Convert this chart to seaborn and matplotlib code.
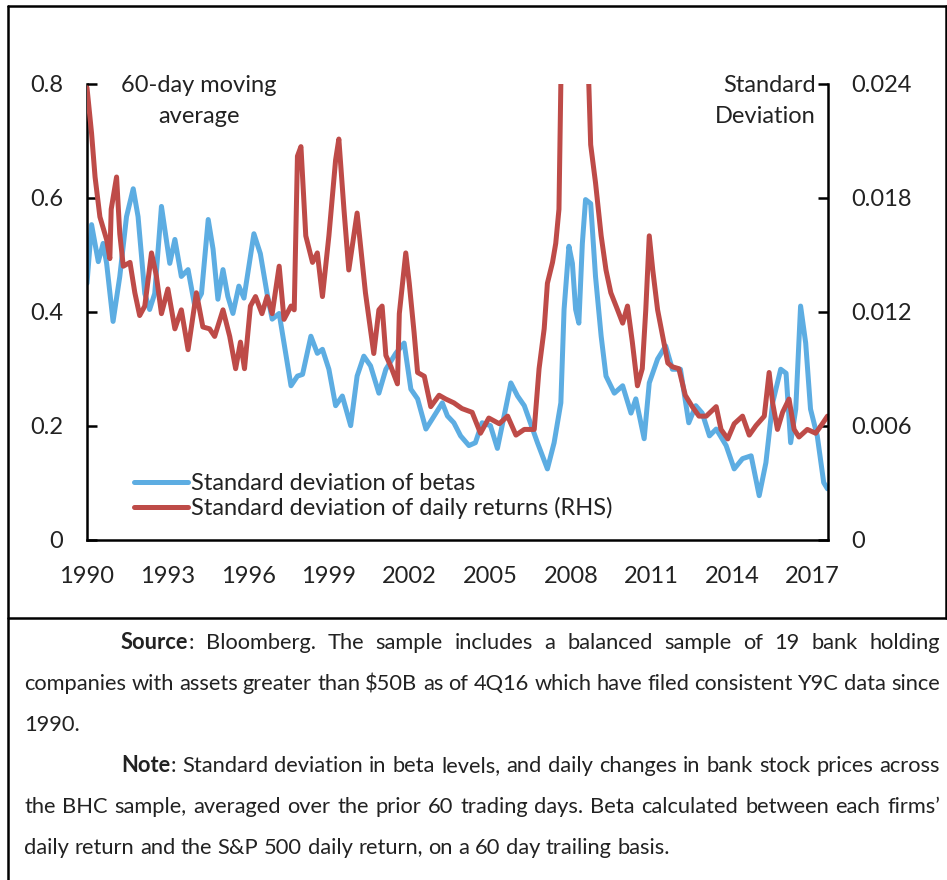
import numpy as np
import pandas as pd
import matplotlib
matplotlib.use("Agg")
import matplotlib.pyplot as plt
from matplotlib.font_manager import FontProperties
import seaborn as sns

# 60-day moving averages
beta_years = [1990.0, 1990.17, 1990.42, 1990.6, 1990.73, 1990.97, 1991.22, 1991.47, 1991.72, 1991.9,
              1992.15, 1992.33, 1992.52, 1992.77, 1992.95, 1993.08, 1993.27, 1993.51, 1993.76, 1994.01,
              1994.26, 1994.51, 1994.69, 1994.87, 1995.06, 1995.24, 1995.43, 1995.65, 1995.84, 1996.21,
              1996.45, 1996.70, 1996.89, 1997.15, 1997.33, 1997.59, 1997.83, 1998.02, 1998.33, 1998.57,
              1998.76, 1999.00, 1999.25, 1999.50, 1999.81, 2000.05, 2000.30, 2000.55, 2000.86, 2001.12,
              2001.49, 2001.80, 2002.05, 2002.30, 2002.61, 2002.85, 2003.22, 2003.41, 2003.65, 2003.90,
              2004.21, 2004.45, 2004.70, 2005.01, 2005.27, 2005.52, 2005.77, 2006.02, 2006.27, 2006.76,
              2007.13, 2007.38, 2007.63, 2007.75, 2007.93, 2008.06, 2008.18, 2008.30, 2008.43, 2008.55,
              2008.74, 2008.92, 2009.13, 2009.31, 2009.62, 2009.93, 2010.24, 2010.42, 2010.73, 2010.92,
              2011.23, 2011.53, 2011.78, 2012.08, 2012.39, 2012.65, 2012.89, 2013.16, 2013.41, 2013.78,
              2014.08, 2014.39, 2014.71, 2015.01, 2015.26, 2015.51, 2015.81, 2016.01, 2016.18, 2016.37,
              2016.55, 2016.74, 2016.92, 2017.17, 2017.41, 2017.55]
beta_sd = [0.45, 0.553, 0.488, 0.52, 0.485, 0.383, 0.462, 0.567, 0.616, 0.567,
           0.432, 0.404, 0.432, 0.585, 0.527, 0.485, 0.527, 0.462, 0.474, 0.41,
           0.432, 0.562, 0.51, 0.422, 0.474, 0.427, 0.397, 0.445, 0.424, 0.537,
           0.502, 0.432, 0.387, 0.397, 0.345, 0.27, 0.287, 0.29, 0.357, 0.327,
           0.334, 0.299, 0.235, 0.252, 0.2, 0.287, 0.322, 0.305, 0.257, 0.299,
           0.327, 0.345, 0.264, 0.247, 0.194, 0.212, 0.24, 0.217, 0.205, 0.182,
           0.165, 0.17, 0.205, 0.2, 0.16, 0.217, 0.275, 0.252, 0.235, 0.17,
           0.124, 0.17, 0.24, 0.404, 0.515, 0.485, 0.404, 0.38, 0.52, 0.597,
           0.59, 0.462, 0.357, 0.287, 0.257, 0.27, 0.222, 0.247, 0.177, 0.275,
           0.317, 0.34, 0.299, 0.299, 0.205, 0.235, 0.222, 0.182, 0.194, 0.165,
           0.124, 0.142, 0.147, 0.077, 0.135, 0.24, 0.299, 0.292, 0.17, 0.229,
           0.41, 0.345, 0.229, 0.182, 0.1, 0.089]

ret_years = [1990.0, 1990.17, 1990.3, 1990.48, 1990.73, 1990.85, 1990.9, 1991.1, 1991.22, 1991.35,
             1991.6, 1991.78, 1991.96, 1992.15, 1992.4, 1992.58, 1992.77, 1993.01, 1993.27, 1993.51,
             1993.76, 1994.07, 1994.31, 1994.56, 1994.75, 1995.06, 1995.31, 1995.53, 1995.71, 1995.86,
             1996.08, 1996.27, 1996.51, 1996.70, 1996.89, 1997.15, 1997.33, 1997.59, 1997.71, 1997.83,
             1997.96, 1998.14, 1998.39, 1998.57, 1998.76, 1999.00, 1999.25, 1999.37, 1999.56, 1999.74,
             2000.05, 2000.36, 2000.67, 2000.86, 2000.98, 2001.12, 2001.31, 2001.55, 2001.62, 2001.86,
             2001.99, 2002.17, 2002.30, 2002.55, 2002.79, 2003.10, 2003.35, 2003.65, 2003.95, 2004.33,
             2004.64, 2004.95, 2005.34, 2005.65, 2005.96, 2006.27, 2006.64, 2006.82, 2007.01, 2007.13,
             2007.32, 2007.44, 2007.56, 2007.63, 2007.82, 2008.07, 2008.37, 2008.67, 2008.74, 2008.92,
             2009.13, 2009.31, 2009.49, 2009.74, 2009.93, 2010.11, 2010.29, 2010.48, 2010.66, 2010.79,
             2010.92, 2011.05, 2011.23, 2011.42, 2011.61, 2011.78, 2012.02, 2012.26, 2012.52, 2012.77,
             2013.04, 2013.41, 2013.59, 2013.84, 2014.08, 2014.39, 2014.64, 2014.89, 2015.20, 2015.38,
             2015.51, 2015.69, 2015.88, 2016.12, 2016.31, 2016.49, 2016.80, 2017.11, 2017.36, 2017.55]
ret_sd = [0.0238, 0.0214, 0.0191, 0.0170, 0.0158, 0.0148, 0.0174, 0.0191, 0.0161, 0.0144,
          0.0146, 0.0130, 0.0118, 0.0123, 0.0151, 0.0139, 0.0119, 0.0132, 0.0111, 0.0121,
          0.0100, 0.0130, 0.0112, 0.0111, 0.0107, 0.0121, 0.0107, 0.0090, 0.0104, 0.0090,
          0.0123, 0.0128, 0.0119, 0.0128, 0.0119, 0.0144, 0.0116, 0.0123, 0.0121, 0.0202,
          0.0207, 0.0160, 0.0146, 0.0151, 0.0128, 0.0160, 0.0200, 0.0211, 0.0174, 0.0142,
          0.0172, 0.0130, 0.0098, 0.0121, 0.0123, 0.0097, 0.0091, 0.0082, 0.0119, 0.0151,
          0.0135, 0.0109, 0.0088, 0.0086, 0.0070, 0.0076, 0.0074, 0.0072, 0.0069, 0.0067,
          0.0056, 0.0064, 0.0061, 0.0065, 0.0055, 0.0058, 0.0058, 0.0090, 0.0111, 0.0135,
          0.0146, 0.0156, 0.0174, 0.0240, 0.0300, 0.0330, 0.0310, 0.0240, 0.0208, 0.0188,
          0.0160, 0.0142, 0.0130, 0.0121, 0.0114, 0.0123, 0.0104, 0.0081, 0.0090, 0.0121,
          0.0160, 0.0142, 0.0121, 0.0107, 0.0093, 0.0091, 0.0090, 0.0076, 0.0070, 0.0065,
          0.0065, 0.0070, 0.0058, 0.0053, 0.0061, 0.0065, 0.0055, 0.0060, 0.0065, 0.0088,
          0.0072, 0.0058, 0.0067, 0.0074, 0.0058, 0.0054, 0.0058, 0.0056, 0.0061, 0.0065]

x_ticks = list(range(1990, 2018, 3))
left_ticks = [0, 0.2, 0.4, 0.6, 0.8]
left_labels = ["0", "0.2", "0.4", "0.6", "0.8"]
right_ticks = [0, 0.006, 0.012, 0.018, 0.024]
right_labels = ["0", "0.006", "0.012", "0.018", "0.024"]

series_labels = ["Standard deviation of betas", "Standard deviation of daily returns (RHS)"]

caption = [
    ("Source: Bloomberg. The sample includes a balanced sample of 19 bank holding", 121, True),
    ("companies with assets greater than $50B as of 4Q16 which have filed consistent Y9C data since", 24, True),
    ("1990.", 24, False),
    ("Note: Standard deviation in beta levels, and daily changes in bank stock prices across", 121, True),
    ("the BHC sample, averaged over the prior 60 trading days. Beta calculated between each firms\u2019", 24, True),
    ("daily return and the S&P 500 daily return, on a 60 day trailing basis.", 24, False),
]

BLUE = "#5DADE2"
RED = "#BE4B48"
W, H = 947, 880
FS = 17

sns.set_style("white")
plt.rcParams["font.family"] = ["Lato", "DejaVu Sans"]
plt.rcParams["text.color"] = "#222222"

fig = plt.figure(figsize=(W / 100, H / 100), dpi=100)
ax = fig.add_axes([87 / W, 1 - 539.5 / H, (828 - 87) / W, (539.5 - 84) / H])
ax2 = ax.twinx()

sns.lineplot(x=beta_years, y=beta_sd, ax=ax, color=BLUE, lw=3.6, legend=False)
sns.lineplot(x=ret_years, y=ret_sd, ax=ax2, color=RED, lw=3.6, legend=False)

ax.set_xlim(1990, 2017.57)
ax.set_ylim(0, 0.8)
ax2.set_ylim(0, 0.024)
ax.set_xticks(x_ticks)
ax.set_xticklabels([str(y) for y in x_ticks])
ax.set_yticks(left_ticks)
ax.set_yticklabels(left_labels)
ax2.set_yticks(right_ticks)
ax2.set_yticklabels(right_labels)
for a in (ax, ax2):
    a.set_xlabel("")
    a.set_ylabel("")
    a.spines["top"].set_visible(False)
    for s in a.spines.values():
        s.set_linewidth(1.8)
        s.set_color("black")
ax.spines["right"].set_visible(False)
ax2.spines["left"].set_visible(False)
ax2.spines["bottom"].set_visible(False)
ax.tick_params(axis="both", direction="in", length=7, width=1.8, pad=17,
               labelsize=FS, colors="black", labelcolor="#222222")
ax.tick_params(axis="x", pad=19)
ax2.tick_params(axis="y", direction="in", length=7, width=1.8, pad=17,
                labelsize=FS, colors="black", labelcolor="#222222")

fig.text(199 / W, 1 - 92 / H, "60-day moving", ha="center", va="baseline", fontsize=FS)
fig.text(199 / W, 1 - 123 / H, "average", ha="center", va="baseline", fontsize=FS)
fig.text(816 / W, 1 - 92 / H, "Standard", ha="right", va="baseline", fontsize=FS)
fig.text(816 / W, 1 - 123 / H, "Deviation", ha="right", va="baseline", fontsize=FS)

handles = [ax.get_lines()[0], ax2.get_lines()[0]]
fig.legend(handles, series_labels, loc="center left", bbox_to_anchor=(134 / W, 1 - 496 / H),
           frameon=False, fontsize=FS, handlelength=2.3, handletextpad=0.1,
           labelspacing=0.12, borderpad=0, borderaxespad=0)

# frame around chart and notes
frame = dict(color="black", lw=1.8, transform=fig.transFigure, clip_on=False)
fig.add_artist(plt.Line2D([8 / W, 8 / W], [0, 1 - 6 / H], **frame))
fig.add_artist(plt.Line2D([8 / W, 1], [1 - 6 / H, 1 - 6 / H], **frame))
fig.add_artist(plt.Line2D([945.5 / W, 945.5 / W], [1 - 618 / H, 1 - 6 / H], **frame))
fig.add_artist(plt.Line2D([8 / W, 1], [1 - 618 / H, 1 - 618 / H], **frame))

# justified caption text, placed word by word
fig.canvas.draw()
renderer = fig.canvas.get_renderer()


def props(weight, size):
    return FontProperties(family=["Lato", "DejaVu Sans"], size=size, weight=weight)


def measure(s, weight, size):
    t = fig.text(0, 0, s, fontproperties=props(weight, size))
    w = t.get_window_extent(renderer).width
    t.remove()
    return w


def descent(s, weight, size):
    _, _, d = renderer.get_text_width_height_descent(s, props(weight, size), ismath=False)
    return d


def split_words(line):
    pieces = []
    for word in line.split(" "):
        if word in ("Source:", "Note:"):
            pieces.append([(word[:-1], "bold"), (":", "normal")])
        else:
            pieces.append([(word, "normal")])
    return pieces


right_edge = 940
# largest size at which the fullest line still fits with plain spaces
cap_fs = 17.0
while cap_fs > 10:
    sp = measure("a a", "normal", cap_fs) - measure("aa", "normal", cap_fs)
    ok = True
    for line, x0, justify in caption:
        if not justify:
            continue
        p = split_words(line)
        nat = sum(measure(s, wt, cap_fs) for q in p for s, wt in q) + sp * 0.85 * (len(p) - 1)
        if nat > right_edge - x0:
            ok = False
            break
    if ok:
        break
    cap_fs -= 0.25

space_w = measure("a a", "normal", cap_fs) - measure("aa", "normal", cap_fs)
lp_d = descent("lp", "normal", cap_fs)
for i, (line, x0, justify) in enumerate(caption):
    base_y = 649 + 41 * i
    pieces = split_words(line)
    widths = [sum(measure(s, wt, cap_fs) for s, wt in p) for p in pieces]
    gap = (right_edge - x0 - sum(widths)) / (len(pieces) - 1) if justify else space_w
    x = x0
    for p, w in zip(pieces, widths):
        xx = x
        for s, wt in p:
            d = max(descent(s, wt, cap_fs), lp_d)
            fig.text(xx / W, (H - base_y - d) / H, s, fontproperties=props(wt, cap_fs),
                     ha="left", va="bottom")
            xx += measure(s, wt, cap_fs)
        x += w + gap

fig.savefig("out.png", dpi=100)
